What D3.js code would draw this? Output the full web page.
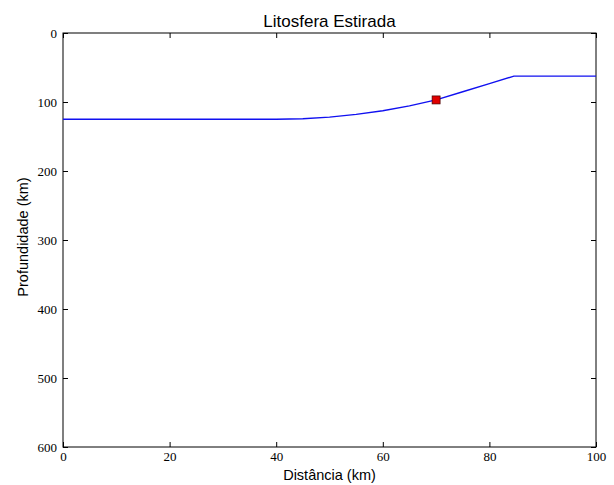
<!DOCTYPE html>
<html>
<head>
<meta charset="utf-8">
<script src="https://cdn.jsdelivr.net/npm/d3@7"></script>
<style>
  html, body { margin: 0; padding: 0; background: #fff; }
  svg { display: block; }
</style>
</head>
<body>
<svg id="chart" width="614" height="485"></svg>
<script>
const distance = [0, 40, 45, 50, 55, 60, 65, 70, 75, 80, 84.6, 100];
const depth    = [125, 125, 124.2, 121.9, 118.0, 112.6, 105.6, 97, 85.2, 73.4, 62.5, 62.5];
const markerPoint = [{x: 70, y: 97}];
const xTicks = [0, 20, 40, 60, 80, 100];
const yTicks = [0, 100, 200, 300, 400, 500, 600];
const titleText = "Litosfera Estirada";
const xLabel = "Distância (km)";
const yLabel = "Profundidade (km)";

const svg = d3.select("#chart");
const m = {left: 63, right: 596, top: 33, bottom: 447};

const x = d3.scaleLinear().domain([0, 100]).range([m.left, m.right]);
const y = d3.scaleLinear().domain([0, 600]).range([m.top, m.bottom]);

const tickFont = "'Liberation Serif', 'DejaVu Serif', serif";
const labelFont = "'Liberation Sans', Arial, sans-serif";

// frame
svg.append("rect")
  .attr("x", m.left).attr("y", m.top)
  .attr("width", m.right - m.left).attr("height", m.bottom - m.top)
  .attr("fill", "none").attr("stroke", "#000").attr("stroke-width", 1);

// axes (inward ticks)
const tl = 5;
const axB = d3.axisBottom(x).tickValues(xTicks).tickSizeInner(-tl).tickSizeOuter(0).tickPadding(5);
const axT = d3.axisTop(x).tickValues(xTicks).tickSizeInner(-tl).tickSizeOuter(0).tickFormat("");
const axL = d3.axisLeft(y).tickValues(yTicks).tickSizeInner(-tl).tickSizeOuter(0).tickPadding(6);
const axR = d3.axisRight(y).tickValues(yTicks).tickSizeInner(-tl).tickSizeOuter(0).tickFormat("");

function styleAxis(g) {
  g.select(".domain").remove();
  g.selectAll("line").attr("stroke", "#000");
  g.selectAll("text").attr("font-family", tickFont).attr("font-size", 13).attr("fill", "#000");
}
svg.append("g").attr("transform", `translate(0,${m.bottom})`).call(axB).call(styleAxis);
svg.append("g").attr("transform", `translate(0,${m.top})`).call(axT).call(styleAxis);
svg.append("g").attr("transform", `translate(${m.left},0)`).call(axL).call(styleAxis);
svg.append("g").attr("transform", `translate(${m.right},0)`).call(axR).call(styleAxis);

// line
const data = distance.map((d, i) => ({x: d, y: depth[i]}));
const line = d3.line().x(d => x(d.x)).y(d => y(d.y)).curve(d3.curveLinear);
svg.append("path").datum(data)
  .attr("d", line).attr("fill", "none")
  .attr("stroke", "#1010f0").attr("stroke-width", 1.4);

// marker
svg.selectAll(".mk").data(markerPoint).enter().append("rect")
  .attr("x", d => x(d.x) - 4).attr("y", d => y(d.y) - 4)
  .attr("width", 8).attr("height", 8)
  .attr("fill", "#e00000").attr("stroke", "#400").attr("stroke-width", 0.7);

// titles
svg.append("text").attr("x", (m.left + m.right) / 2).attr("y", 27)
  .attr("text-anchor", "middle").attr("font-family", labelFont).attr("font-size", 17)
  .text(titleText);
svg.append("text").attr("x", (m.left + m.right) / 2).attr("y", 480)
  .attr("text-anchor", "middle").attr("font-family", labelFont).attr("font-size", 14.5)
  .text(xLabel);
svg.append("text")
  .attr("transform", `translate(28,237) rotate(-90)`)
  .attr("text-anchor", "middle").attr("font-family", labelFont).attr("font-size", 14.5)
  .text(yLabel);
</script>
</body>
</html>
